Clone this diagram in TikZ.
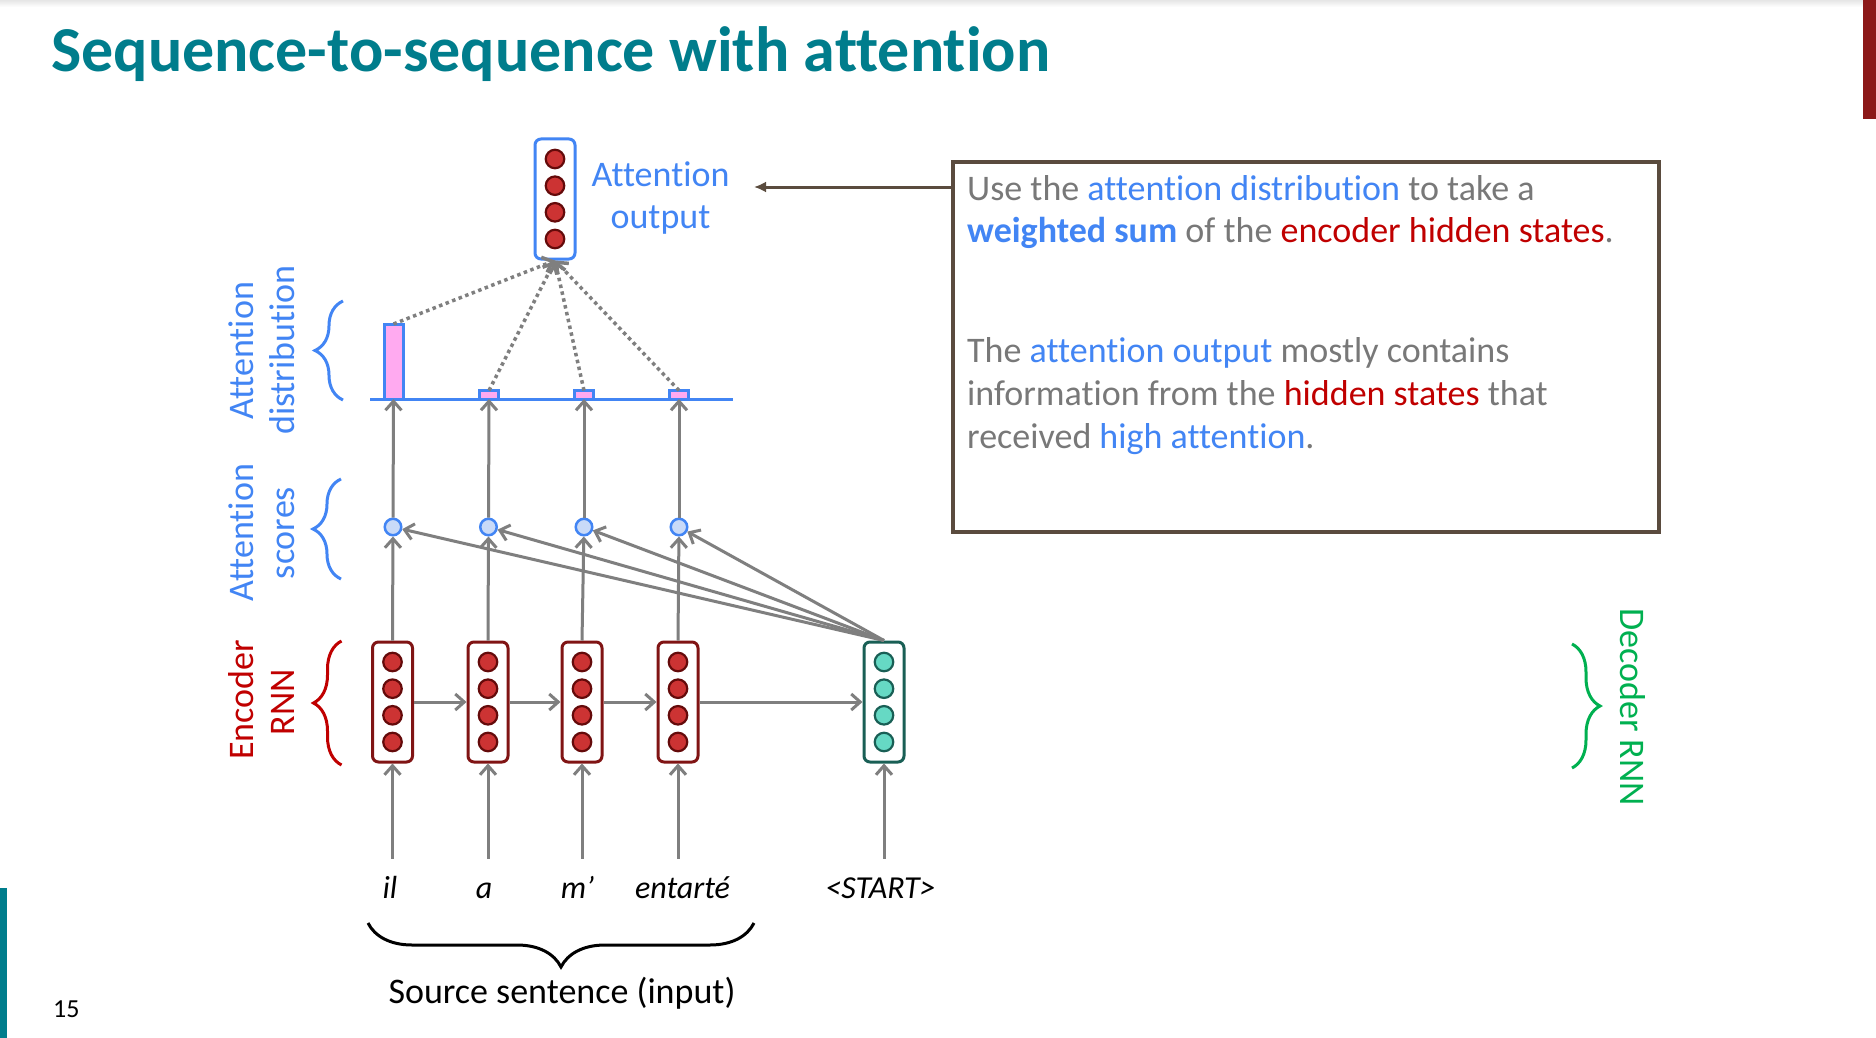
\documentclass[tikz,border=0pt]{standalone}
\usepackage{fontspec}
\setmainfont{Carlito}[Ligatures={TeX,CommonOff}]
\usepackage{xcolor}
\usepackage{tikz}
\usetikzlibrary{shapes,arrows.meta,decorations.pathreplacing}
\definecolor{slideteal}{RGB}{0,125,140}
\definecolor{slidered}{RGB}{140,24,24}
\definecolor{attblue}{RGB}{66,133,244}
\definecolor{encred}{RGB}{192,0,0}
\definecolor{encborder}{RGB}{128,20,20}
\definecolor{reddotf}{RGB}{204,51,51}
\definecolor{reddotb}{RGB}{100,10,10}
\definecolor{decborder}{RGB}{25,95,85}
\definecolor{decfill}{RGB}{102,217,196}
\definecolor{decgreen}{RGB}{0,176,80}
\definecolor{scorefill}{RGB}{201,218,248}
\definecolor{pinkbar}{RGB}{255,170,240}
\definecolor{arrgray}{RGB}{127,127,127}
\definecolor{txtgray}{RGB}{120,120,120}
\definecolor{boxbrown}{RGB}{90,75,62}
\tikzset{cell/.style={draw,rounded corners=6pt,line width=3pt,fill=white,minimum width=40pt,minimum height=120pt,inner sep=0pt},
  enc/.style={cell,draw=encborder},
  dec/.style={cell,draw=decborder},
  outbox/.style={cell,draw=attblue},
  dot/.style={circle,line width=2.2pt,minimum size=18.5pt,inner sep=0pt},
  reddot/.style={dot,draw=reddotb,fill=reddotf},
  greendot/.style={dot,draw=decborder,fill=decfill},
  score/.style={circle,draw=attblue,fill=scorefill,line width=2.5pt,minimum size=16.5pt,inner sep=0pt},
  bar/.style={draw=attblue,fill=pinkbar,line width=3pt,minimum width=19pt,inner sep=0pt,outer sep=0pt,anchor=south},
  arr/.style={draw=arrgray,line width=3pt,-{Straight Barb[length=9pt,width=16pt]}},
  dotarr/.style={draw=arrgray,line width=3.5pt,dash pattern=on 3.5pt off 3.5pt,-{Straight Barb[length=9pt,width=16pt]}},
  lbl/.style={font=\fontsize{36}{42}\selectfont,inner sep=0pt,anchor=base},
  brc/.style={decorate,decoration={brace,amplitude=28pt},line width=3pt},
  word/.style={font=\fontsize{32}{37}\selectfont\itshape,inner xsep=0pt,inner ysep=17pt,text height=22pt,text depth=7pt,anchor=base},
  boxtxt/.style={font=\fontsize{36}{42}\selectfont,text=txtgray,inner sep=0pt,anchor=base west}}

\begin{document}
\begin{tikzpicture}[x=1pt,y=-1pt]
    \useasboundingbox (0,0) rectangle (1876,1038);
    \fill[white] (0,0) rectangle (1876,1038);
    \shade[top color=black!10,bottom color=white] (0,0) rectangle (1863,7);
    \fill[slidered] (1863,0) rectangle (1876,119);
    \fill[slideteal] (0,888) rectangle (7,1038);
    \node[font=\fontsize{64}{70}\selectfont\bfseries,text=slideteal,inner sep=0pt,anchor=base west] (title) at (51,72) {Sequence-to-sequence with attention};
    \node[font=\fontsize{26}{30}\selectfont,inner sep=0pt,anchor=base west] (pg) at (53,1017) {15};

    \node[enc] (e1) at (392.5,702) {};
    \node[enc] (e2) at (488,702) {};
    \node[enc] (e3) at (582,702) {};
    \node[enc] (e4) at (678,702) {};
    \node[dec] (d1) at (884,702) {};
    \node[outbox] (out) at (555,199) {};
    \foreach \c in {e1,e2,e3,e4,out}
        \foreach \k/\off in {1/-40,2/-13.3,3/13.3,4/40}
            \node[reddot] (\c d\k) at ([yshift=\off pt]\c.center) {};
    \foreach \k/\off in {1/-40,2/-13.3,3/13.3,4/40}
        \node[greendot] (d1d\k) at ([yshift=\off pt]d1.center) {};

    \node[score] (s1) at (393,527) {};
    \node[score] (s2) at (488.5,527) {};
    \node[score] (s3) at (584,527) {};
    \node[score] (s4) at (679,527) {};

    \coordinate (bl) at (370,399);
    \coordinate (br) at (733,399);
    \draw[attblue,line width=3pt] (bl) -- (br);
    \node[bar,minimum height=75pt] (b1) at (393.5,399) {};
    \node[bar,minimum height=8.5pt] (b2) at (489,399) {};
    \node[bar,minimum height=8.5pt] (b3) at (584,399) {};
    \node[bar,minimum height=8.5pt] (b4) at (679,399) {};

    \node[word] (w1) at (390,898) {il};
    \node[word] (w2) at (484,898) {a};
    \node[word] (w3) at (577.5,898) {m’};
    \node[word] (w4) at (682.5,898) {entarté};
    \node[word] (w5) at (880.5,898) {<START>};

    \draw[arr] (w1.north -| e1) -- (e1.south);
    \draw[arr] (w2.north -| e2) -- (e2.south);
    \draw[arr] (w3.north -| e3) -- (e3.south);
    \draw[arr] (w4.north -| e4) -- (e4.south);
    \draw[arr] (w5.north -| d1) -- (d1.south);
    \draw[arr] (e1) -- (e2);
    \draw[arr] (e2) -- (e3);
    \draw[arr] (e3) -- (e4);
    \draw[arr] (e4) -- (d1);
    \draw[arr] (e1.north) -- (s1);
    \draw[arr] (e2.north) -- (s2);
    \draw[arr] (e3.north) -- (s3);
    \draw[arr] (e4.north) -- (s4);
    \draw[arr] (d1.north) -- (s1);
    \draw[arr] (d1.north) -- (s2);
    \draw[arr] (d1.north) -- (s3);
    \draw[arr] (d1.north) -- (s4);
    \draw[arr] (s1) -- (b1.south);
    \draw[arr] (s2) -- (b2.south);
    \draw[arr] (s3) -- (b3.south);
    \draw[arr] (s4) -- (b4.south);
    \draw[dotarr] (b1.north) -- (out.south);
    \draw[dotarr] (b2.north) -- (out.south);
    \draw[dotarr] (b3.north) -- (out.south);
    \draw[dotarr] (b4.north) -- (out.south);

    \node[lbl,text=attblue] (attA) at (660.5,186.7) {Attention};
    \node[lbl,text=attblue] (attB) at (660.5,228) {output};
    \node[lbl,text=attblue,rotate=90] (distA) at (253.5,351) {Attention};
    \node[lbl,text=attblue,rotate=90] (distB) at (294.5,350) {distribution};
    \node[lbl,text=attblue,rotate=90] (scA) at (253.5,533) {Attention};
    \node[lbl,text=attblue,rotate=90] (scB) at (294.5,533) {scores};
    \node[lbl,text=encred,rotate=90] (enA) at (253,700) {Encoder};
    \node[lbl,text=encred,rotate=90] (enB) at (294.5,702) {RNN};
    \node[lbl,text=decgreen,rotate=-90] (deA) at (1620,707) {Decoder RNN};
    \node[lbl] (src) at (562,1003) {Source sentence (input)};

    \draw[brc,attblue] (343,400) -- (343,301);
    \draw[brc,attblue] (341,579) -- (341,479);
    \draw[brc,encred] (341.5,765) -- (341.5,641);
    \draw[brc,decgreen] (1572,644) -- (1572,768);
    \draw[brc,black,decoration={amplitude=44pt}] (754,923) -- (368,923);

    \node[draw=boxbrown,line width=3.5pt,minimum width=706pt,minimum height=370pt,inner sep=0pt] (expl) at (1306,346.8) {};
    \coordinate (tipA) at (754,187);
    \draw[boxbrown,line width=3pt,-{Latex[length=12pt,width=11pt]}] (expl.west |- tipA) -- (tipA);
    \node[boxtxt] (t1) at (967,200) {Use the \textcolor{attblue}{attention distribution} to take a};
    \node[boxtxt] (t2) at (967,242) {\textcolor{attblue}{\textbf{weighted sum}} of the \textcolor{encred}{encoder hidden states}.};
    \node[boxtxt] (t3) at (967,362) {The \textcolor{attblue}{attention output} mostly contains};
    \node[boxtxt] (t4) at (967,405) {information from the \textcolor{encred}{hidden states} that};
    \node[boxtxt] (t5) at (967,448) {received \textcolor{attblue}{high attention}.};
\end{tikzpicture}
\end{document}
